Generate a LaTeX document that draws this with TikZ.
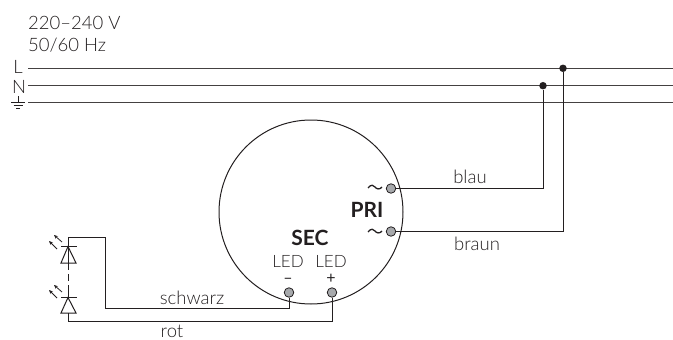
\documentclass[tikz,border=0pt]{standalone}
\usepackage{fontspec}
\setmainfont{Lato Light}[BoldFont={Lato Bold}]
\newfontfamily\symfont{Lato}
\usetikzlibrary{arrows.meta}
\definecolor{ink}{HTML}{231F20}
\definecolor{term}{HTML}{A7A9AC}
\tikzset{
  x=1pt,y=-1pt,
  wire/.style={draw=ink,line width=1pt},
  busline/.style={draw=ink!85,line width=1.1pt},
  txt/.style={text=ink,inner sep=0pt,font=\fontsize{18.5}{18.5}\selectfont},
  small/.style={text=ink,inner sep=0pt,font=\fontsize{17}{17}\selectfont},
  symb/.style={text=ink,inner sep=0pt,font=\symfont\fontsize{16}{16}\selectfont},
  boldtxt/.style={text=ink,inner sep=0pt,font=\fontsize{21}{21}\selectfont\bfseries},
  terminal/.style={circle,draw=ink,fill=term,line width=0.8pt,minimum size=9.5pt,inner sep=0pt},
  junction/.style={circle,fill=ink,minimum size=7.5pt,inner sep=0pt},
  lightarrow/.style={draw=ink,line width=0.8pt,-{Stealth[length=4pt,width=3.5pt]}},
  diode/.style={draw=ink,line width=1pt},
  tilde/.style={draw=ink,line width=1.3pt},
}
\begin{document}
\begin{tikzpicture}
\useasboundingbox (0,0) rectangle (673,340);
% texts
\node[txt,anchor=base west] (volt) at (28,29) {220–240 V};
\node[txt,anchor=base west] (freq) at (28,52) {50/60 Hz};
\node[txt,anchor=base] (lL) at (18,73.5) {L};
\node[txt,anchor=base] (lN) at (19,93) {N};
% bus
\coordinate (Ls) at (28,68.3); \coordinate (Le) at (673,68.3);
\coordinate (Ns) at (28,85.7); \coordinate (Ne) at (673,85.7);
\coordinate (Gs) at (28,102.7); \coordinate (Ge) at (673,102.7);
\draw[busline] (Ls) -- (Le);
\draw[busline] (Ns) -- (Ne);
\draw[busline] (Gs) -- (Ge);
% earth symbol
\draw[draw=ink,line width=0.8pt] (18,96) -- (18,102.5) (11,102.5) -- (25,102.5) (13.5,105.5) -- (22.5,105.5) (16,108.5) -- (20,108.5);
% driver
\node[circle,draw=ink,line width=1pt,minimum size=184pt,inner sep=0pt] (drv) at (311,212) {};
\node[terminal] (t1) at (391,188.5) {};
\node[terminal] (t2) at (391,231.5) {};
\node[terminal] (t3) at (289,292.5) {};
\node[terminal] (t4) at (332,292.5) {};
\node[junction] (j1) at (543,85.7) {};
\node[junction] (j2) at (563,68.3) {};
% tildes
\draw[tilde] (368,188) .. controls (371,184) and (374,185) .. (375,187) .. controls (376,189) and (380,190) .. (382,187);
\draw[tilde] (368,232) .. controls (371,228) and (374,229) .. (375,231) .. controls (376,233) and (380,234) .. (382,231);
\node[boldtxt,anchor=base] (pri) at (367,217) {PRI};
\node[boldtxt,anchor=base] (sec) at (310,245) {SEC};
\node[small,anchor=base] (ledm) at (288,267) {LED};
\node[small,anchor=base] (ledp) at (331,267) {LED};
\node[symb,anchor=base] (minus) at (288,283) {–};
\node[symb,anchor=base] (plus) at (331,283) {+};
% wires
\draw[wire] (t1) -- (543,188.5) -- (j1);
\draw[wire] (t2) -- (563,231.5) -- (j2);
\coordinate (dtop) at (68,237);
\coordinate (dbot) at (68,321);
\draw[wire] (t3) -- (289,308) -- (105,308) -- (105,237) -- (dtop) -- (68,263);
\draw[wire] (t4) -- (332,321) -- (dbot) -- (68,313);
% diodes
\draw[diode] (61,246) -- (77,246);
\draw[diode] (68,246.5) -- (61,263) -- (76,263) -- cycle;
\draw[diode] (61,297) -- (77,297);
\draw[diode] (68,297.5) -- (61,313) -- (76,313) -- cycle;
\draw[draw=ink,line width=1pt,dash pattern=on 7pt off 4pt] (68,263) -- (68,297);
\draw[diode] (68,287) -- (68,297);
% light arrows
\draw[lightarrow] (62,242) -- (54,235);
\draw[lightarrow] (57,249) -- (49,241);
\draw[lightarrow] (62,292) -- (54,285);
\draw[lightarrow] (57,298) -- (49,290);
% labels
\node[txt,anchor=base] (blau) at (470,183) {blau};
\node[txt,anchor=base] (braun) at (477,250) {braun};
\node[txt,anchor=base] (schwarz) at (192,304) {schwarz};
\node[txt,anchor=base] (rot) at (172,337) {rot};
\end{tikzpicture}
\end{document}
